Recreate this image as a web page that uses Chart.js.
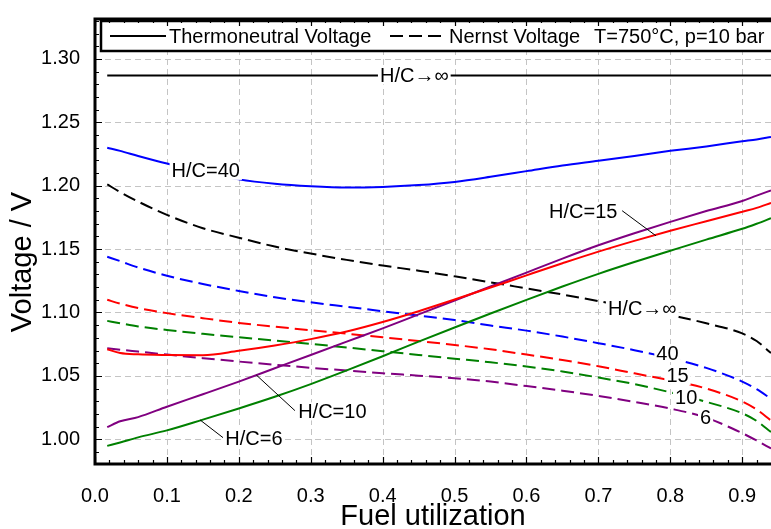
<!doctype html>
<html lang="en">
<head>
<meta charset="utf-8">
<title>Voltage vs fuel utilization</title>
<script src="https://cdn.jsdelivr.net/npm/chart.js"></script>
<style>
  html, body { margin: 0; padding: 0; background: #fff; }
  #wrap { width: 771px; height: 529px; }
</style>
</head>
<body>
<div id="wrap"><canvas id="myChart" width="771" height="529"></canvas></div>
<script>
// fuel utilization grid shared by all curves
const fuelUtil = [0.017, 0.035, 0.06, 0.1, 0.15, 0.2, 0.25, 0.3, 0.35, 0.4, 0.45, 0.5, 0.55, 0.6, 0.65, 0.7, 0.75, 0.8, 0.85, 0.9, 0.92, 0.94];

const thermoneutralV = 1.287;
const thermoU = [0.017, 0.94];

// solid lines (cell voltage curves)
const solidHC40 = [1.230, 1.2275, 1.2235, 1.2175, 1.211, 1.205, 1.2015, 1.1995, 1.1985, 1.199, 1.2005, 1.203, 1.207, 1.2115, 1.216, 1.2197, 1.2235, 1.2275, 1.231, 1.235, 1.2365, 1.2384];
const solidHC15 = [1.071, 1.068, 1.067, 1.0665, 1.0663, 1.0698, 1.074, 1.079, 1.085, 1.0925, 1.101, 1.1102, 1.1197, 1.1293, 1.1388, 1.148, 1.1565, 1.1645, 1.172, 1.1795, 1.1825, 1.1865];
const solidPurple = [1.0096, 1.0142, 1.0175, 1.0257, 1.0355, 1.0455, 1.056, 1.0665, 1.077, 1.0875, 1.0985, 1.1095, 1.1205, 1.1315, 1.1425, 1.153, 1.1625, 1.1715, 1.180, 1.188, 1.1922, 1.1963];
const solidGreen = [0.9948, 0.9975, 1.0015, 1.007, 1.0155, 1.0243, 1.0335, 1.0435, 1.0543, 1.0655, 1.077, 1.0882, 1.0992, 1.110, 1.1205, 1.1305, 1.1398, 1.1487, 1.1575, 1.166, 1.170, 1.1743];

// dashed lines (Nernst voltage)
const nernstInf = [1.201, 1.195, 1.1875, 1.177, 1.1665, 1.159, 1.152, 1.1465, 1.1415, 1.137, 1.133, 1.1285, 1.1238, 1.119, 1.1142, 1.109, 1.1035, 1.098, 1.0915, 1.0835, 1.0775, 1.068];
const nernst40 = [1.144, 1.1405, 1.1355, 1.129, 1.1225, 1.117, 1.112, 1.108, 1.1045, 1.101, 1.0975, 1.094, 1.0897, 1.0857, 1.081, 1.0758, 1.0703, 1.064, 1.0563, 1.0455, 1.0395, 1.032];
const nernst15 = [1.110, 1.107, 1.1035, 1.0995, 1.0955, 1.0918, 1.0888, 1.086, 1.0833, 1.0805, 1.0775, 1.0744, 1.071, 1.0668, 1.0625, 1.0576, 1.052, 1.0465, 1.040, 1.0298, 1.0235, 1.0148];
const nernst10 = [1.0934, 1.0915, 1.089, 1.0862, 1.0832, 1.0805, 1.0779, 1.0752, 1.0724, 1.0695, 1.0665, 1.0636, 1.0607, 1.0574, 1.0535, 1.0487, 1.0435, 1.037, 1.0295, 1.0205, 1.0145, 1.0057];
const nernst6 = [1.0718, 1.0707, 1.0692, 1.0668, 1.064, 1.0613, 1.0588, 1.0564, 1.0542, 1.0521, 1.0502, 1.0482, 1.0455, 1.042, 1.0383, 1.0342, 1.0295, 1.0242, 1.017, 1.0048, 0.999, 0.9928];

// in-plot labels (data coordinates)
const labelText = ['H/C\u2192\u221e', 'H/C=40', 'H/C\u2192\u221e', '40', '15', '10', '6', 'H/C=15', 'H/C=10', 'H/C=6'];
const labelU = [0.444, 0.154, 0.761, 0.796, 0.81, 0.822, 0.849, 0.679, 0.330, 0.221];
const labelV = [1.287, 1.2117, 1.103, 1.068, 1.050, 1.033, 1.0174, 1.180, 1.022, 1.001];

// leader lines for H/C=15, H/C=10, H/C=6
const leaderFromU = [0.733, 0.278, 0.178];
const leaderFromV = [1.1803, 1.0226, 1.0013];
const leaderToU = [0.780, 0.2245, 0.146];
const leaderToV = [1.1605, 1.0506, 1.0153];

const xTicks = [0, 0.1, 0.2, 0.3, 0.4, 0.5, 0.6, 0.7, 0.8, 0.9];
const yTicks = [1.00, 1.05, 1.10, 1.15, 1.20, 1.25, 1.30];

const FONT = "'Liberation Sans', Arial, sans-serif";
const DASH = [13, 6];

function pts(vals) {
  return fuelUtil.map((u, i) => ({x: u, y: vals[i]}));
}

function series(vals, color, dashed) {
  return {
    data: pts(vals),
    borderColor: color,
    borderWidth: 2,
    borderDash: dashed ? DASH : [],
    pointRadius: 0,
    cubicInterpolationMode: 'monotone',
    fill: false
  };
}

const datasets = [
  {
    data: thermoU.map(u => ({x: u, y: thermoneutralV})),
    borderColor: '#000', borderWidth: 2, pointRadius: 0, fill: false
  },
  series(solidHC40, '#0000ff', false),
  series(solidHC15, '#ff0000', false),
  series(solidPurple, '#800080', false),
  series(solidGreen, '#008000', false),
  series(nernstInf, '#000000', true),
  series(nernst40, '#0000ff', true),
  series(nernst15, '#ff0000', true),
  series(nernst10, '#008000', true),
  series(nernst6, '#800080', true)
];

// dashed grey grid under the curves
const gridLines = {
  id: 'gridLines',
  beforeDatasetsDraw(chart) {
    const ctx = chart.ctx;
    const xs = chart.scales.x, ys = chart.scales.y;
    const ca = chart.chartArea;
    ctx.save();
    ctx.strokeStyle = '#c4c4c4';
    ctx.lineWidth = 1;
    ctx.setLineDash([6, 4]);
    ctx.beginPath();
    xs.ticks.forEach(t => {
      const px = Math.round(xs.getPixelForValue(t.value)) + 0.5;
      ctx.moveTo(px, ca.top); ctx.lineTo(px, ca.bottom);
    });
    ys.ticks.forEach(t => {
      const py = Math.round(ys.getPixelForValue(t.value)) + 0.5;
      ctx.moveTo(ca.left, py); ctx.lineTo(ca.right, py);
    });
    ctx.stroke();
    ctx.restore();
  }
};

const decorations = {
  id: 'decorations',
  afterDatasetsDraw(chart) {
    const ctx = chart.ctx;
    const xs = chart.scales.x, ys = chart.scales.y;
    const ca = chart.chartArea;
    ctx.save();

    // leader lines
    ctx.strokeStyle = '#000';
    ctx.lineWidth = 1;
    for (let i = 0; i < leaderFromU.length; i++) {
      ctx.beginPath();
      ctx.moveTo(xs.getPixelForValue(leaderFromU[i]), ys.getPixelForValue(leaderFromV[i]));
      ctx.lineTo(xs.getPixelForValue(leaderToU[i]), ys.getPixelForValue(leaderToV[i]));
      ctx.stroke();
    }

    // curve labels on white
    ctx.font = '20px ' + FONT;
    ctx.textAlign = 'center';
    ctx.textBaseline = 'middle';
    for (let i = 0; i < labelText.length; i++) {
      const px = xs.getPixelForValue(labelU[i]);
      const py = ys.getPixelForValue(labelV[i]);
      const w = ctx.measureText(labelText[i]).width;
      ctx.fillStyle = '#fff';
      ctx.fillRect(px - w / 2 - 2, py - 9, w + 4, 18);
      ctx.fillStyle = '#000';
      ctx.fillText(labelText[i], px, py + 1);
    }

    // legend box
    const bx = ca.left + 6, by = 21, bh = 30;
    ctx.fillStyle = '#fff';
    ctx.fillRect(bx, by, ca.right - bx + 10, bh);
    ctx.lineWidth = 2.5;
    ctx.strokeStyle = '#000';
    ctx.strokeRect(bx, by, ca.right - bx + 10, bh);
    const ly = by + bh / 2;
    ctx.lineWidth = 2;
    ctx.beginPath();
    ctx.moveTo(110, ly); ctx.lineTo(166, ly);
    ctx.stroke();
    ctx.setLineDash(DASH);
    ctx.beginPath();
    ctx.moveTo(390, ly); ctx.lineTo(447, ly);
    ctx.stroke();
    ctx.setLineDash([]);
    ctx.font = '20px ' + FONT;
    ctx.textAlign = 'left';
    ctx.fillStyle = '#000';
    ctx.fillText('Thermoneutral Voltage', 169, ly + 1);
    ctx.fillText('Nernst Voltage', 449, ly + 1);
    ctx.fillText('T=750\u00b0C, p=10 bar', 594, ly + 1);

    // frame
    ctx.strokeStyle = '#000';
    ctx.lineWidth = 3;
    ctx.beginPath();
    ctx.moveTo(ca.right + 2, ca.top); ctx.lineTo(ca.left, ca.top);
    ctx.lineTo(ca.left, ca.bottom); ctx.lineTo(ca.right + 2, ca.bottom);
    ctx.stroke();

    // inward ticks
    ctx.lineWidth = 1.2;
    ctx.beginPath();
    for (let k = 0; k <= 47; k++) {
      const v = k * 0.02;
      if (v > xs.max) break;
      const px = Math.round(xs.getPixelForValue(v)) + 0.5;
      const len = (k % 5 === 0) ? 7 : 4;
      ctx.moveTo(px, ca.bottom); ctx.lineTo(px, ca.bottom - len);
      ctx.moveTo(px, ca.top); ctx.lineTo(px, ca.top + len);
    }
    for (let k = 99; k <= 133; k++) {
      const v = k / 100;
      if (v < ys.min || v > ys.max) continue;
      const py = Math.round(ys.getPixelForValue(v)) + 0.5;
      const len = (k % 5 === 0) ? 7 : 4;
      ctx.moveTo(ca.left, py); ctx.lineTo(ca.left + len, py);
    }
    ctx.stroke();

    // y axis title
    ctx.translate(23, 262);
    ctx.rotate(-Math.PI / 2);
    ctx.font = '29px ' + FONT;
    ctx.textAlign = 'center';
    ctx.textBaseline = 'middle';
    ctx.fillStyle = '#000';
    ctx.fillText('Voltage / V', 0, 0);
    ctx.restore();
  }
};

new Chart(document.getElementById('myChart'), {
  type: 'line',
  data: { datasets },
  options: {
    responsive: false,
    animation: false,
    devicePixelRatio: 1,
    layout: { padding: { top: 13, left: 0, right: 0, bottom: 0 } },
    plugins: { legend: { display: false }, tooltip: { enabled: false } },
    scales: {
      x: {
        type: 'linear',
        min: 0, max: 0.94,
        afterFit(s) { s.height = 65; },
        afterBuildTicks(s) { s.ticks = xTicks.map(v => ({value: v})); },
        grid: { display: false },
        border: { display: false },
        ticks: {
          padding: 12, color: '#000', maxRotation: 0, autoSkip: false,
          font: { family: FONT, size: 20 },
          callback: v => v.toFixed(1)
        },
        title: {
          display: true, text: 'Fuel utilization', color: '#000',
          font: { family: FONT, size: 29, lineHeight: 0.85 },
          padding: { top: 0, bottom: 0 }
        }
      },
      y: {
        min: 0.9805, max: 1.3315,
        afterFit(s) { s.width = 95; },
        afterBuildTicks(s) { s.ticks = yTicks.map(v => ({value: v})); },
        grid: { display: false },
        border: { display: false },
        ticks: {
          padding: 7, color: '#000',
          font: { family: FONT, size: 20 },
          callback: v => v.toFixed(2)
        }
      }
    }
  },
  plugins: [gridLines, decorations]
});
</script>
</body>
</html>
